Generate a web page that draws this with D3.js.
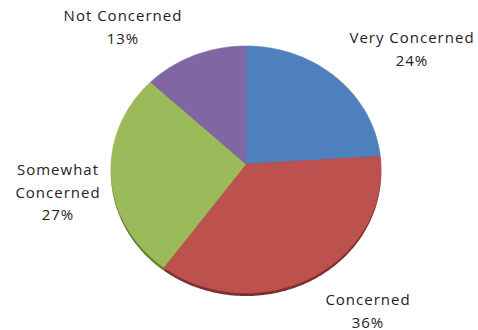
<!DOCTYPE html>
<html>
<head>
<meta charset="utf-8">
<script src="https://cdn.jsdelivr.net/npm/d3@7"></script>
<style>
  html, body { margin: 0; padding: 0; background: #fff; }
  svg { display: block; }
  text { font-family: "Open Sans", Lato, sans-serif; fill: #222; letter-spacing: 1px; }
</style>
</head>
<body>
<svg id="chart" width="478" height="330"></svg>
<script>
// Share of respondents by level of concern (clockwise from 12 o'clock)
const categories = ["Very Concerned", "Concerned", "Somewhat Concerned", "Not Concerned"];
const values = [24, 36, 27, 13];
const percentLabels = ["24%", "36%", "27%", "13%"];
const colors = ["#4d80bc", "#bd514e", "#9bbb5b", "#8066a2"];
const sideColors = ["#34577f", "#7c2f2d", "#62792f", "#54406c"];

const svg = d3.select("#chart");

// Tilted-disc projection: the plane of the pie leans back slightly,
// so the near (bottom) rim looks larger than the far (top) rim.
const cx = 246, cy = 164;
const Rx = 135, Ry = 123.3, tilt = 0.0445;
const depth = 3;

function project(angle, r, dy = 0) {
  // angle measured clockwise from 12 o'clock, r in [0, 1]
  const x = r * Math.sin(angle);
  const z = -r * Math.cos(angle);
  const w = 1 - tilt * z;
  return [cx + Rx * x / w, cy + Ry * z / w + dy];
}

function slicePath(d, dy = 0) {
  const steps = Math.max(8, Math.ceil((d.endAngle - d.startAngle) / 0.02));
  const pts = [project(0, 0, dy)];
  for (let i = 0; i <= steps; i++) {
    const a = d.startAngle + (d.endAngle - d.startAngle) * i / steps;
    pts.push(project(a, 1, dy));
  }
  return d3.line()(pts) + "Z";
}

const pie = d3.pie().sort(null).value(d => d)(values);

// side wall (visible only along the near rim)
svg.append("g")
  .selectAll("path")
  .data(pie)
  .join("path")
  .attr("d", d => slicePath(d, depth))
  .attr("fill", (d, i) => sideColors[i]);

// top face
svg.append("g")
  .selectAll("path")
  .data(pie)
  .join("path")
  .attr("d", d => slicePath(d))
  .attr("fill", (d, i) => colors[i])
  .attr("stroke", (d, i) => colors[i])
  .attr("stroke-width", 0.5);

// data labels: each line of a label, centred on its anchor
const labelAnchors = [
  { x: 412, y: 43 },
  { x: 368, y: 305 },
  { x: 58, y: 175 },
  { x: 123, y: 21 }
];
const labelLines = [
  [categories[0], percentLabels[0]],
  [categories[1], percentLabels[1]],
  ["Somewhat", "Concerned", percentLabels[2]],
  [categories[3], percentLabels[3]]
];
const lineHeight = 22.5;

const labels = svg.append("g").attr("font-size", 15).attr("text-anchor", "middle");
labelLines.forEach((lines, i) => {
  const t = labels.append("text")
    .attr("x", labelAnchors[i].x)
    .attr("y", labelAnchors[i].y);
  lines.forEach((s, j) => {
    t.append("tspan")
      .attr("x", labelAnchors[i].x)
      .attr("dy", j === 0 ? 0 : lineHeight)
      .text(s);
  });
});
</script>
</body>
</html>
